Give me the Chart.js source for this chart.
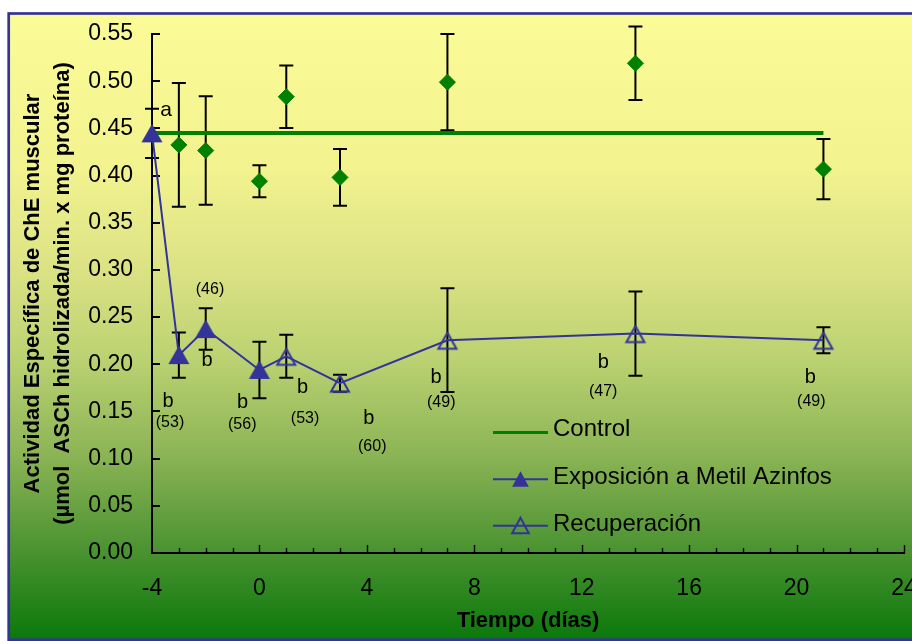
<!DOCTYPE html>
<html>
<head>
<meta charset="utf-8">
<script src="https://cdn.jsdelivr.net/npm/chart.js@4.4.1/dist/chart.umd.min.js"></script>
<style>
  html, body { margin: 0; padding: 0; background: #fff; overflow: hidden; }
  #wrap { width: 940px; height: 641px; }
</style>
</head>
<body>
<div id="wrap"><canvas id="c" width="940" height="641"></canvas></div>
<script>
// Actividad específica de ChE muscular (media ± DE) por día de muestreo
const controlDays  = [-3, -2, 0, 1, 3, 7, 14, 21];
const controlMean  = [0.4325, 0.4265, 0.394, 0.4835, 0.398, 0.499, 0.519, 0.4068];
const controlSD    = [0.0655, 0.0575, 0.017, 0.033, 0.030, 0.051, 0.039, 0.032];
const controlLevel = 0.445;
const controlSpan  = [-4, 21];

const exposureDays = [-4, -3, -2, 0];
const exposureMean = [0.4447, 0.2097, 0.2373, 0.194];
const exposureSD   = [0.026, 0.024, 0.022, 0.030];

// la recuperación parte del último día de exposición
const recoveryDays = [0, 1, 3, 7, 14, 21];
const recoveryMean = [0.194, 0.2085, 0.180, 0.2255, 0.2325, 0.2255];
const recoverySD   = [null, 0.0227, 0.009, 0.055, 0.0447, 0.0138];

const xTicks = [-4, 0, 4, 8, 12, 16, 20, 24];
const yTicks = [0, 0.05, 0.10, 0.15, 0.20, 0.25, 0.30, 0.35, 0.40, 0.45, 0.50, 0.55];

// letras de significancia y tamaños muestrales (n)
const sigLetters = [
  { text: 'a', day: -3.475, value: 0.469 },
  { text: 'b', day: -3.40, value: 0.161 },
  { text: 'b', day: -1.95, value: 0.2035 },
  { text: 'b', day: -0.63, value: 0.159 },
  { text: 'b', day: 1.61, value: 0.175 },
  { text: 'b', day: 4.07, value: 0.143 },
  { text: 'b', day: 6.58, value: 0.1855 },
  { text: 'b', day: 12.80, value: 0.2014 },
  { text: 'b', day: 20.51, value: 0.1855 }
];
const sampleSizes = [
  { text: '(53)', day: -3.33, value: 0.1378 },
  { text: '(46)', day: -1.84, value: 0.2788 },
  { text: '(56)', day: -0.64, value: 0.1357 },
  { text: '(53)', day: 1.70, value: 0.1421 },
  { text: '(60)', day: 4.20, value: 0.1127 },
  { text: '(49)', day: 6.77, value: 0.159 },
  { text: '(47)', day: 12.80, value: 0.1707 },
  { text: '(49)', day: 20.55, value: 0.1601 }
];

const FONT = "'Liberation Sans', Arial, sans-serif";
const BLUE = '#333399';
const GREEN = '#008000';

function toPoints(days, vals) {
  return days.map((d, i) => ({ x: d, y: vals[i] }));
}

// marcadores triangulares centrados en el punto
function triangleSprite(filled) {
  const c = document.createElement('canvas');
  c.width = 24; c.height = 24;
  const g = c.getContext('2d');
  g.beginPath();
  if (filled) {
    g.moveTo(12, 2.5); g.lineTo(22.5, 21); g.lineTo(1.5, 21);
  } else {
    g.moveTo(12, 4.5); g.lineTo(21, 20.5); g.lineTo(3, 20.5);
  }
  g.closePath();
  if (filled) {
    g.fillStyle = BLUE; g.fill();
  } else {
    g.strokeStyle = BLUE; g.lineWidth = 2; g.stroke();
  }
  return c;
}
const triFilled = triangleSprite(true);
const triOpen = triangleSprite(false);

const framePlugin = {
  id: 'frame',
  beforeDraw(chart) {
    const { ctx, width, height } = chart;
    ctx.save();
    ctx.fillStyle = '#ffffff';
    ctx.fillRect(0, 0, width, height);
    const g = ctx.createLinearGradient(0, 13, 0, 640);
    g.addColorStop(0.00, '#FBFB97');
    g.addColorStop(0.25, '#F2F28F');
    g.addColorStop(0.40, '#DDE385');
    g.addColorStop(0.55, '#BCD272');
    g.addColorStop(0.70, '#8DB556');
    g.addColorStop(0.85, '#4E9433');
    g.addColorStop(1.00, '#0A780A');
    ctx.fillStyle = g;
    ctx.fillRect(8.7, 13.5, width - 8.7, 626);
    ctx.strokeStyle = BLUE;
    ctx.lineWidth = 2.7;
    ctx.strokeRect(8.7, 13.5, width - 8.7 - 6, 626.2);
    ctx.restore();
  }
};

const innerTicksPlugin = {
  id: 'innerTicks',
  beforeDatasetsDraw(chart) {
    const { ctx, scales: { x, y }, chartArea } = chart;
    ctx.save();
    ctx.strokeStyle = '#000';
    ctx.lineWidth = 2;
    yTicks.forEach(v => {
      const py = Math.round(y.getPixelForValue(v));
      ctx.beginPath();
      ctx.moveTo(chartArea.left, py);
      ctx.lineTo(chartArea.left + 8, py);
      ctx.stroke();
    });
    ctx.lineWidth = 1.4;
    for (let d = xTicks[0] + 1; d <= xTicks[xTicks.length - 1]; d++) {
      const px = Math.round(x.getPixelForValue(d)) + 0.5;
      const len = xTicks.includes(d) ? 8 : 5;
      ctx.beginPath();
      ctx.moveTo(px, chartArea.bottom);
      ctx.lineTo(px, chartArea.bottom - len);
      ctx.stroke();
    }
    ctx.restore();
  }
};

const errorBarsPlugin = {
  id: 'errorBars',
  beforeDatasetsDraw(chart) {
    const { ctx, scales: { x, y } } = chart;
    const groups = [
      [controlDays, controlMean, controlSD],
      [exposureDays, exposureMean, exposureSD],
      [recoveryDays, recoveryMean, recoverySD]
    ];
    ctx.save();
    ctx.strokeStyle = '#000';
    ctx.lineWidth = 2;
    groups.forEach(([days, means, sds]) => {
      days.forEach((d, i) => {
        if (sds[i] == null) return;
        const px = x.getPixelForValue(d);
        const top = y.getPixelForValue(means[i] + sds[i]);
        const bot = y.getPixelForValue(means[i] - sds[i]);
        ctx.beginPath();
        ctx.moveTo(px, top); ctx.lineTo(px, bot);
        ctx.moveTo(px - 7, top); ctx.lineTo(px + 7, top);
        ctx.moveTo(px - 7, bot); ctx.lineTo(px + 7, bot);
        ctx.stroke();
      });
    });
    ctx.restore();
  }
};

const labelsPlugin = {
  id: 'sigLabels',
  afterDatasetsDraw(chart) {
    const { ctx, scales: { x, y } } = chart;
    ctx.save();
    ctx.fillStyle = '#000';
    ctx.textAlign = 'center';
    ctx.textBaseline = 'middle';
    sigLetters.forEach(l => {
      ctx.font = (l.text === 'a' ? 21 : 20) + 'px ' + FONT;
      ctx.fillText(l.text, x.getPixelForValue(l.day), y.getPixelForValue(l.value));
    });
    ctx.font = '16px ' + FONT;
    sampleSizes.forEach(l => {
      ctx.fillText(l.text, x.getPixelForValue(l.day), y.getPixelForValue(l.value));
    });
    ctx.restore();
  }
};

const legendPlugin = {
  id: 'legendBox',
  afterDraw(chart) {
    const ctx = chart.ctx;
    const x0 = 493, x1 = 548, tx = 553;
    const rows = [
      { text: 'Control', ty: 429.5, ly: 432.5, color: GREEN, lw: 3, marker: null },
      { text: 'Exposición a Metil Azinfos', ty: 477, ly: 479.3, color: BLUE, lw: 2, marker: 'filled' },
      { text: 'Recuperación', ty: 524, ly: 525.7, color: BLUE, lw: 2, marker: 'open' }
    ];
    ctx.save();
    rows.forEach(r => {
      ctx.strokeStyle = r.color;
      ctx.lineWidth = r.lw;
      ctx.beginPath();
      ctx.moveTo(x0, r.ly); ctx.lineTo(x1, r.ly);
      ctx.stroke();
      if (r.marker) {
        const cx = (x0 + x1) / 2, cy = r.ly;
        ctx.beginPath();
        ctx.moveTo(cx, cy - 8); ctx.lineTo(cx + 8.3, cy + 7.5); ctx.lineTo(cx - 8.3, cy + 7.5);
        ctx.closePath();
        if (r.marker === 'filled') {
          ctx.fillStyle = BLUE; ctx.fill();
        } else {
          ctx.strokeStyle = BLUE; ctx.lineWidth = 2; ctx.stroke();
        }
      }
      ctx.fillStyle = '#000';
      ctx.font = '24px ' + FONT;
      ctx.textAlign = 'left';
      ctx.textBaseline = 'middle';
      ctx.fillText(r.text, tx, r.ty);
    });
    ctx.restore();
  }
};

new Chart(document.getElementById('c'), {
  type: 'line',
  data: {
    datasets: [
      {
        label: 'Exposición a Metil Azinfos',
        data: toPoints(exposureDays, exposureMean),
        borderColor: BLUE, borderWidth: 2,
        pointStyle: triFilled, pointRadius: 10,
        clip: false
      },
      {
        label: 'Recuperación',
        data: toPoints(recoveryDays, recoveryMean),
        borderColor: BLUE, borderWidth: 2,
        pointStyle: triOpen,
        pointRadius: ctx => (ctx.dataIndex === 0 ? 0 : 10),
        clip: false
      },
      {
        label: 'Control (días)',
        data: toPoints(controlDays, controlMean),
        showLine: false,
        pointStyle: 'rectRot', pointRadius: 8,
        backgroundColor: GREEN, borderColor: GREEN, borderWidth: 1,
        clip: false
      },
      {
        label: 'Control',
        data: controlSpan.map(d => ({ x: d, y: controlLevel })),
        borderColor: GREEN, borderWidth: 4,
        pointRadius: 0,
        clip: false
      }
    ]
  },
  options: {
    responsive: false,
    animation: false,
    devicePixelRatio: 1,
    events: [],
    layout: { padding: { left: 0, top: 34, right: 36, bottom: 0 } },
    elements: { line: { tension: 0 } },
    plugins: { legend: { display: false }, tooltip: { enabled: false } },
    scales: {
      x: {
        type: 'linear',
        min: -4, max: 24,
        afterBuildTicks: s => { s.ticks = xTicks.map(v => ({ value: v })); },
        afterFit: s => { s.height = 88; },
        grid: { display: false, drawTicks: false },
        border: { display: true, color: '#000', width: 2 },
        ticks: {
          padding: 22, color: '#000', maxRotation: 0, autoSkip: false,
          font: { family: FONT, size: 23 },
          callback: v => String(v)
        },
        title: {
          display: true, text: 'Tiempo (días)', color: '#000',
          font: { family: FONT, size: 22, weight: 'bold' },
          padding: { top: 0, bottom: 7 }
        }
      },
      y: {
        min: 0, max: 0.55,
        afterBuildTicks: s => { s.ticks = yTicks.map(v => ({ value: v })); },
        afterFit: s => { s.width = 152; },
        grid: { display: false, drawTicks: false },
        border: { display: true, color: '#000', width: 2 },
        ticks: {
          padding: 19, color: '#000',
          font: { family: FONT, size: 23 },
          callback: v => Number(v).toFixed(2)
        },
        title: {
          display: true,
          text: ['Actividad Específica de ChE muscular', '(µmol  ASCh hidrolizada/min. x mg proteína)'],
          color: '#000',
          font: { family: FONT, size: 22, weight: 'bold', lineHeight: 30 / 22 },
          padding: { top: 17.5, bottom: 0 }
        }
      }
    }
  },
  plugins: [framePlugin, errorBarsPlugin, innerTicksPlugin, labelsPlugin, legendPlugin]
});
</script>
</body>
</html>
